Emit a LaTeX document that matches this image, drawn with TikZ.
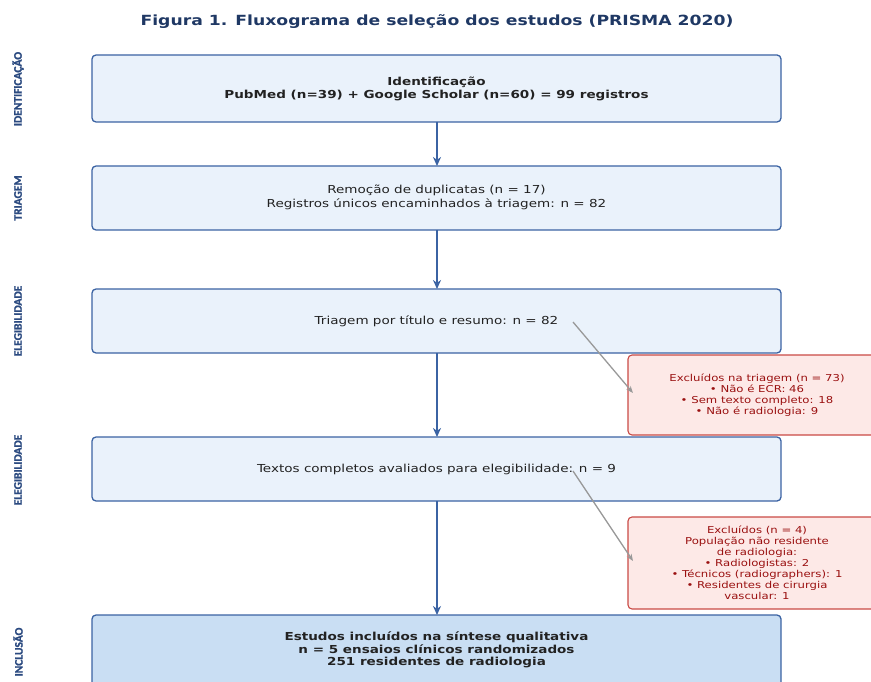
\documentclass[tikz,border=0pt]{standalone}
\usepackage{fontspec}
\setmainfont{DejaVu Sans}[FakeStretch=1.23]
\newfontfamily\sidefont{Carlito}[BoldFeatures={FakeBold=1.5}]
\usetikzlibrary{arrows.meta}
\definecolor{titleblue}{HTML}{1F3864}
\definecolor{sideblue}{HTML}{2B4A80}
\definecolor{boxblue}{HTML}{EAF2FB}
\definecolor{boxdark}{HTML}{C9DEF3}
\definecolor{edgeblue}{HTML}{3B63A3}
\definecolor{exfill}{HTML}{FDE9E7}
\definecolor{exedge}{HTML}{C94A45}
\definecolor{extext}{HTML}{9A1010}
\definecolor{txt}{HTML}{222222}
\tikzset{
  x=1pt, y=-1pt,
  flowbox/.style={draw=edgeblue, line width=1.3pt, fill=boxblue, rounded corners=4pt},
  finalbox/.style={flowbox, fill=boxdark},
  exbox/.style={draw=exedge, line width=1.1pt, fill=exfill, rounded corners=4pt},
  boxtext/.style={align=center, font=\fontsize{11}{14}\selectfont, text=txt},
  boldtext/.style={align=center, font=\fontsize{11}{13}\selectfont\bfseries, text=txt},
  extxt/.style={align=center, font=\fontsize{9.5}{11}\selectfont, text=extext},
  sidelabel/.style={rotate=90, font=\sidefont\bfseries\fontsize{11.5}{13}\selectfont, text=sideblue},
  flowarrow/.style={draw=edgeblue, line width=2.2pt, -{Stealth[length=9pt,width=8pt]}},
  exarrow/.style={draw=gray!80, line width=1.3pt, -{Stealth[length=7pt,width=5.5pt]}}
}
\begin{document}
\begin{tikzpicture}
\useasboundingbox (0,0) rectangle (871,682);
\clip (0,0) rectangle (871,682);
\node[font=\fontsize{14}{16}\selectfont\bfseries, text=titleblue] (title) at (437,22) {Figura 1. Fluxograma de seleção dos estudos (PRISMA 2020)};

% boxes
\draw[flowbox] (92,55) rectangle (781,122);
\node[boldtext] (b1) at (436.5,88.5) {Identificação\\PubMed (n=39) + Google Scholar (n=60) = 99 registros};
\coordinate (b1s) at (437,122);

\draw[flowbox] (92,166) rectangle (781,230);
\node[boxtext] (b2) at (436.5,197.5) {Remoção de duplicatas (n = 17)\\Registros únicos encaminhados à triagem: n = 82};
\coordinate (b2n) at (437,166);
\coordinate (b2s) at (437,230);

\draw[flowbox] (92,289) rectangle (781,353);
\node[boxtext] (b3) at (436.5,321) {Triagem por título e resumo: n = 82};
\coordinate (b3n) at (437,289);
\coordinate (b3s) at (437,353);

\draw[flowbox] (92,437) rectangle (781,501);
\node[boxtext] (b4) at (436.5,469) {Textos completos avaliados para elegibilidade: n = 9};
\coordinate (b4n) at (437,437);
\coordinate (b4s) at (437,501);

\draw[finalbox] (92,615) rectangle (781,700);
\node[align=center, font=\fontsize{11}{12.5}\selectfont\bfseries, text=txt] (b5) at (436.5,650) {Estudos incluídos na síntese qualitativa\\n = 5 ensaios clínicos randomizados\\251 residentes de radiologia};
\coordinate (b5n) at (437,615);

% exclusion boxes
\draw[exbox] (628,355) rectangle (890,435);
\node[extxt] (e1) at (757,395) {Excluídos na triagem (n = 73)\\• Não é ECR: 46\\• Sem texto completo: 18\\• Não é radiologia: 9};
\draw[exbox] (628,517) rectangle (890,609);
\node[extxt] (e2) at (757,563) {Excluídos (n = 4)\\População não residente\\de radiologia:\\• Radiologistas: 2\\• Técnicos (radiographers): 1\\• Residentes de cirurgia\\vascular: 1};

% arrows
\draw[flowarrow] (b1s) -- (b2n);
\draw[flowarrow] (b2s) -- (b3n);
\draw[flowarrow] (b3s) -- (b4n);
\draw[flowarrow] (b4s) -- (b5n);

\coordinate (a1s) at (573,322);
\coordinate (a1e) at (633,393);
\coordinate (a2s) at (573,471);
\coordinate (a2e) at (633,561);
\draw[exarrow] (a1s) -- (a1e);
\draw[exarrow] (a2s) -- (a2e);

% side labels
\node[sidelabel] (s1) at (18,89) {IDENTIFICAÇÃO};
\node[sidelabel] (s2) at (18,198) {TRIAGEM};
\node[sidelabel] (s3) at (18,321) {ELEGIBILIDADE};
\node[sidelabel] (s4) at (18,470) {ELEGIBILIDADE};
\node[sidelabel] (s5) at (18,652) {INCLUSÃO};
\end{tikzpicture}
\end{document}
